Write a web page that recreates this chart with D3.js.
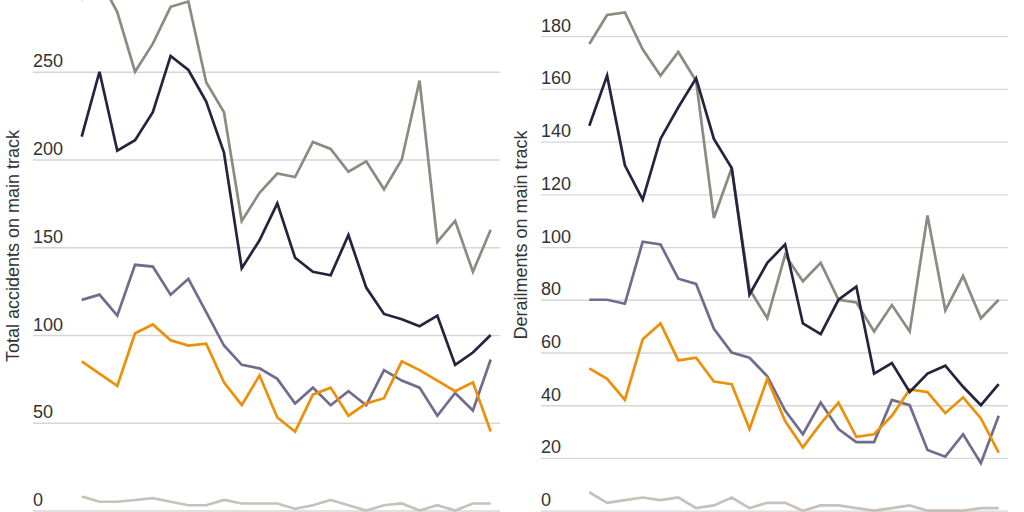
<!DOCTYPE html>
<html>
<head>
<meta charset="utf-8">
<script src="https://cdn.jsdelivr.net/npm/d3@7"></script>
<style>
  body { margin: 0; background: #fff; }
  svg { display: block; }
  .tick text { font-family: "Liberation Sans", Arial, sans-serif; font-size: 18px; fill: #333; }
  .title { font-family: "Liberation Sans", Arial, sans-serif; font-size: 18px; fill: #333; }
</style>
</head>
<body>
<svg id="chart" width="1024" height="512"></svg>
<script>
// 24 yearly points, no x labels shown in the picture
var years = d3.range(1990, 2014)

// total accidents on main track
var totalGray = [291, 303, 284, 250, 266, 287, 290, 244, 227, 165, 181, 192, 190, 210, 206, 193, 199, 183, 200, 245, 153, 165, 136, 160]
var totalNavy = [213, 250, 205, 211, 227, 259, 251, 233, 204, 138, 154, 175, 144, 136, 134, 157, 127, 112, 109, 105, 111, 83, 90, 100]
var totalPurple = [120, 123, 111, 140, 139, 123, 132, 113, 94, 83, 81, 75, 61, 70, 60, 68, 60, 80, 74, 70, 54, 67, 57, 86]
var totalOrange = [85, 78, 71, 101, 106, 97, 94, 95, 73, 60, 77, 53, 45, 66, 70, 54, 61, 64, 85, 80, 74, 68, 73, 45]
var totalLight = [8, 5, 5, 6, 7, 5, 3, 3, 6, 4, 4, 4, 1, 3, 6, 3, 0, 3, 4, 0, 3, 0, 4, 4]

// derailments on main track
var derailGray = [177, 188, 189, 175, 165, 174, 163, 111, 130, 84, 73, 97, 87, 94, 80, 79, 68, 78, 68, 112, 76, 89, 73, 80]
var derailNavy = [146, 165, 131, 118, 141, 153, 164, 141, 130, 82, 94, 101, 71, 67, 80, 85, 52, 56, 45, 52, 55, 47, 40, 48]
var derailPurple = [80, 80, 78.5, 102, 101, 88, 86, 69, 60, 58, 51, 38, 29, 41, 31, 26, 26, 42, 40, 23, 20.5, 29, 18, 36]
var derailOrange = [54, 50, 42, 65, 71, 57, 58, 49, 48, 31, 50, 34, 24, 33, 41, 28, 29, 36, 46, 45, 37, 43, 35, 22]
var derailLight = [7, 3, 4, 5, 4, 5, 1, 2, 5, 1, 3, 3, 0, 2, 2, 1, 0, 1, 2, 0, 0, 0, 1, 1]

// the 300 line sits above the top edge, so it is left out
var totalTicks = [0, 50, 100, 150, 200, 250]
var derailTicks = [0, 20, 40, 60, 80, 100, 120, 140, 160, 180]

var colors = { gray: "#8e8981", navy: "#25233d", purple: "#716c8d", orange: "#eb9008", light: "#c9c1b9" }

var svg = d3.select("#chart")

function drawPanel(opt) {
  var g = svg.append("g")

  var x = d3.scaleLinear().domain([0, years.length - 1]).range(opt.xRange)
  var y = d3.scaleLinear().domain(opt.yDomain).range(opt.yRange)

  var axis = d3.axisRight(y)
    .tickValues(opt.ticks)
    .tickSize(opt.gridRight - opt.gridLeft)
    .tickFormat(d3.format("d"))

  var ax = g.append("g")
    .attr("transform", "translate(" + opt.gridLeft + ",0)")
    .call(axis)
  ax.select(".domain").remove()
  ax.selectAll(".tick line").attr("stroke", "#d6d6d6").attr("stroke-width", 1.3)
  ax.selectAll(".tick text").attr("x", 0).attr("dy", -5).attr("text-anchor", "start")

  g.append("text")
    .attr("class", "title")
    .attr("transform", "translate(" + opt.titleX + "," + opt.titleY + ") rotate(-90)")
    .attr("text-anchor", "middle")
    .text(opt.title)

  var line = d3.line()
    .x(function (d, i) { return x(i) })
    .y(function (d) { return y(d) })

  opt.series.forEach(function (s) {
    g.append("path")
      .datum(s.values)
      .attr("fill", "none")
      .attr("stroke", s.color)
      .attr("stroke-width", 2.7)
      .attr("d", line)
  })
}

drawPanel({
  xRange: [81.7, 490.7],
  yDomain: [0, 300],
  yRange: [510.5, -16],
  ticks: totalTicks,
  gridLeft: 33,
  gridRight: 500,
  title: "Total accidents on main track",
  titleX: 19,
  titleY: 246,
  series: [
    { values: totalLight, color: colors.light },
    { values: totalPurple, color: colors.purple },
    { values: totalOrange, color: colors.orange },
    { values: totalGray, color: colors.gray },
    { values: totalNavy, color: colors.navy }
  ]
})

drawPanel({
  xRange: [589.3, 998.7],
  yDomain: [0, 180],
  yRange: [510.7, 36.1],
  ticks: derailTicks,
  gridLeft: 541,
  gridRight: 1008,
  title: "Derailments on main track",
  titleX: 527,
  titleY: 235,
  series: [
    { values: derailLight, color: colors.light },
    { values: derailPurple, color: colors.purple },
    { values: derailOrange, color: colors.orange },
    { values: derailGray, color: colors.gray },
    { values: derailNavy, color: colors.navy }
  ]
})
</script>
</body>
</html>
